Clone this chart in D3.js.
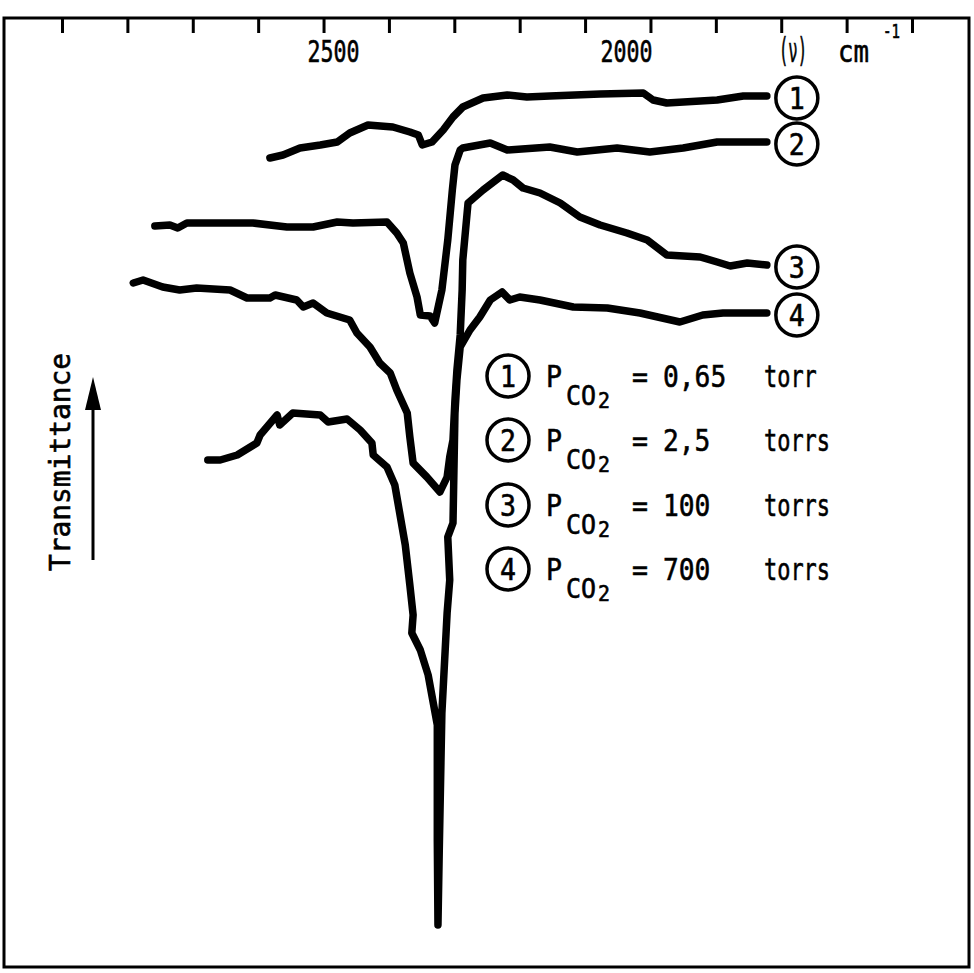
<!DOCTYPE html>
<html><head><meta charset="utf-8">
<script src="https://cdn.jsdelivr.net/npm/d3@7"></script>
<style>body{margin:0;background:#fff} text{stroke:#000;stroke-width:0.6px}</style>
</head><body>
<svg id="c" width="974" height="973"></svg>
<script>
// ---- data (wavenumber cm^-1, transmittance arbitrary units) ----
const tickValues = [2900,2800,2700,2600,2500,2400,2300,2200,2100,2000,1900,1800,1700,1600];
const tickLabels = [2500, 2000];
const series1 = [[2582,81.0],[2562,81.3],[2536,82.0],[2505,82.3],[2479,82.6],[2460,83.5],[2432,84.3],[2394,84.1],[2368,83.6],[2355,83.3],[2349,82.3],[2334,82.6],[2317,83.8],[2302,85.1],[2287,86.1],[2256,87.0],[2219,87.3],[2189,87.1],[2154,87.2],[2077,87.4],[2011,87.5],[1996,86.8],[1975,86.5],[1898,86.8],[1858,87.2],[1822,87.2]];
const series2 = [[2758,74.2],[2735,74.3],[2723,74.0],[2709,74.5],[2658,74.5],[2608,74.5],[2556,74.1],[2516,74.1],[2479,74.6],[2455,74.5],[2403,74.6],[2388,73.5],[2378,72.5],[2368,69.5],[2357,67.1],[2352,65.3],[2337,65.2],[2330,64.5],[2319,67.8],[2310,72.8],[2303,77.8],[2299,80.3],[2291,81.8],[2287,82.0],[2245,82.5],[2219,81.8],[2154,82.1],[2112,81.6],[2051,82.0],[2001,81.6],[1950,82.0],[1898,82.6],[1822,82.6]];
const series3 = [[2791,68.5],[2776,68.8],[2746,68.1],[2720,67.8],[2694,68.0],[2643,67.8],[2617,67.0],[2582,67.0],[2574,67.3],[2541,66.8],[2531,66.1],[2516,66.5],[2495,65.5],[2460,64.8],[2449,63.5],[2429,62.1],[2414,60.5],[2398,59.5],[2388,57.8],[2372,55.5],[2368,53.1],[2363,50.5],[2342,49.1],[2322,47.6],[2311,49.1],[2307,51.1],[2302,52.8],[2299,56.8],[2296,59.8],[2291,63.3],[2288,67.8],[2287,70.8],[2279,76.5],[2256,77.8],[2226,79.3],[2210,78.8],[2195,78.0],[2169,77.5],[2138,76.5],[2108,75.1],[2077,74.3],[2036,73.5],[2005,72.8],[1975,71.3],[1924,71.1],[1898,70.6],[1878,70.2],[1852,70.5],[1822,70.3]];
const series4 = [[2677,50.8],[2658,50.8],[2632,51.3],[2602,52.5],[2597,53.3],[2571,55.3],[2567,54.3],[2547,55.5],[2505,55.3],[2493,54.6],[2464,54.9],[2444,53.8],[2426,52.5],[2424,51.3],[2403,50.1],[2391,48.3],[2383,45.3],[2375,42.3],[2368,38.3],[2363,35.3],[2365,33.5],[2352,31.8],[2340,29.3],[2333,26.8],[2326,24.3],[2326,18.8],[2326,12.8],[2325,4.3],[2323,11.8],[2319,25.5],[2311,35.5],[2307,38.8],[2310,43.1],[2302,44.5],[2299,55.5],[2296,58.8],[2291,62.1],[2276,63.8],[2261,65.1],[2245,66.8],[2227,67.6],[2215,66.8],[2200,67.1],[2169,66.8],[2118,66.1],[2066,66.0],[2016,65.5],[1955,64.6],[1920,65.3],[1889,65.5],[1863,65.5],[1822,65.5]];
const seriesIds = ["1","2","3","4"];
const pressures = ["0,65","2,5","100","700"];
const units = ["torr","torrs","torrs","torrs"];
const yTitle = "Transmittance";

// ---- drawing ----
const FONT = "'DejaVu Sans Mono', 'Liberation Mono', monospace";
const svg = d3.select("#c");
const x = d3.scaleLinear().domain([2900,1600]).range([62,912]);
const y = d3.scaleLinear().domain([0,95]).range([968,18]);

svg.append("rect").attr("x",4).attr("y",18).attr("width",965).attr("height",949)
  .attr("fill","none").attr("stroke","#000").attr("stroke-width",3);

const ax = svg.append("g").attr("transform","translate(0,18)")
  .call(d3.axisBottom(x).tickValues(tickValues).tickSize(15).tickFormat(""));
ax.select(".domain").remove();
ax.selectAll(".tick line").attr("stroke","#000").attr("stroke-width",3);

const labelDx = {2500: 10, 2000: -24};
tickLabels.forEach(v => {
  svg.append("text").attr("x", x(v)+labelDx[v]).attr("y",62)
    .attr("text-anchor","middle").attr("font-family",FONT).attr("font-size",30)
    .attr("textLength",52).attr("lengthAdjust","spacingAndGlyphs").text(v);
});
svg.append("text").attr("x",779).attr("y",62).attr("font-family",FONT).attr("font-size",33)
  .attr("textLength",28).attr("lengthAdjust","spacingAndGlyphs").text("(ν)");
svg.append("text").attr("x",838).attr("y",62).attr("font-family",FONT).attr("font-size",30)
  .attr("textLength",31).attr("lengthAdjust","spacingAndGlyphs").text("cm");
svg.append("text").attr("x",883).attr("y",38).attr("font-family",FONT).attr("font-size",19)
  .attr("textLength",17).attr("lengthAdjust","spacingAndGlyphs").text("-1");

const line = d3.line().x(d=>x(d[0])).y(d=>y(d[1]));
const allSeries = [series1, series2, series3, series4];
svg.append("g").selectAll("path").data(allSeries).join("path")
  .attr("d", line).attr("fill","none").attr("stroke","#000").attr("stroke-width",7.5)
  .attr("stroke-linejoin","round").attr("stroke-linecap","round");

// end labels
allSeries.forEach((s,i) => {
  const last = s[s.length-1];
  const cx = x(last[0]) + 30, cy = y(last[1]) + 2;
  svg.append("circle").attr("cx",cx).attr("cy",cy).attr("r",21)
    .attr("fill","#fff").attr("stroke","#000").attr("stroke-width",3.5);
  svg.append("text").attr("x",cx).attr("y",cy+11).attr("text-anchor","middle")
    .attr("font-family",FONT).attr("font-size",30).attr("textLength",16)
    .attr("lengthAdjust","spacingAndGlyphs").text(seriesIds[i]);
});

// legend
const rowY = [376, 440, 505, 569];
seriesIds.forEach((id,i) => {
  const cy = rowY[i];
  svg.append("circle").attr("cx",508).attr("cy",cy).attr("r",21)
    .attr("fill","#fff").attr("stroke","#000").attr("stroke-width",3.5);
  svg.append("text").attr("x",508).attr("y",cy+11).attr("text-anchor","middle")
    .attr("font-family",FONT).attr("font-size",30).attr("textLength",16)
    .attr("lengthAdjust","spacingAndGlyphs").text(id);
  svg.append("text").attr("x",546).attr("y",cy+11).attr("font-family",FONT).attr("font-size",31)
    .attr("textLength",16).attr("lengthAdjust","spacingAndGlyphs").text("P");
  svg.append("text").attr("x",566).attr("y",cy+29).attr("font-family",FONT).attr("font-size",27)
    .attr("textLength",30).attr("lengthAdjust","spacingAndGlyphs").text("CO");
  svg.append("text").attr("x",598).attr("y",cy+32).attr("font-family",FONT).attr("font-size",21)
    .attr("textLength",12).attr("lengthAdjust","spacingAndGlyphs").text("2");
  svg.append("text").attr("x",632).attr("y",cy+11).attr("font-family",FONT).attr("font-size",31)
    .attr("textLength",16).attr("lengthAdjust","spacingAndGlyphs").text("=");
  svg.append("text").attr("x",663).attr("y",cy+11).attr("font-family",FONT).attr("font-size",31)
    .attr("textLength",pressures[i].length*15.8).attr("lengthAdjust","spacingAndGlyphs").text(pressures[i]);
  svg.append("text").attr("x",764).attr("y",cy+11).attr("font-family",FONT).attr("font-size",31)
    .attr("textLength",units[i].length*13.2).attr("lengthAdjust","spacingAndGlyphs").text(units[i]);
});

// y title with arrow
svg.append("text").attr("transform","translate(70,462) rotate(-90)").attr("text-anchor","middle")
  .attr("font-family",FONT).attr("font-size",29).attr("textLength",218)
  .attr("lengthAdjust","spacingAndGlyphs").text(yTitle);
svg.append("line").attr("x1",93).attr("y1",560).attr("x2",93).attr("y2",400)
  .attr("stroke","#000").attr("stroke-width",3);
svg.append("path").attr("d","M93,377 L85,410 L101,410 Z").attr("fill","#000");
</script>
</body></html>
